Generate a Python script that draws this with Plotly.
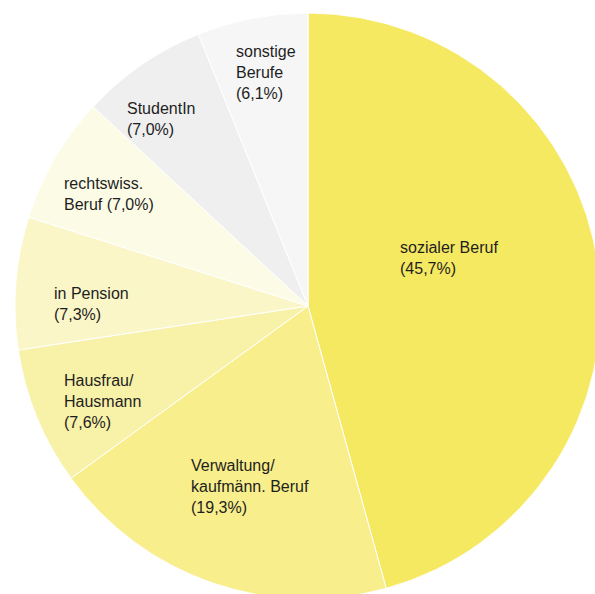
"""Berufsgruppen als Tortendiagramm."""

import plotly.graph_objects as go

# data
categories = [
    "sozialer Beruf",
    "Verwaltung/ kaufmänn. Beruf",
    "Hausfrau/ Hausmann",
    "in Pension",
    "rechtswiss. Beruf",
    "StudentIn",
    "sonstige Berufe",
]
shares = [45.7, 19.3, 7.6, 7.3, 7.0, 7.0, 6.1]
label_lines = [
    "sozialer Beruf<br>",
    "Verwaltung/<br>kaufmänn. Beruf<br>",
    "Hausfrau/<br>Hausmann<br>",
    "in Pension<br>",
    "rechtswiss.<br>Beruf ",
    "StudentIn<br>",
    "sonstige<br>Berufe<br>",
]

# style
colors = ["#F6E962", "#F8EE8C", "#F8F1A8", "#FAF6C8", "#FCFBE6", "#EFEFEF", "#F6F6F6"]
W, H = 616, 612
CX, CY, R = 308, 306, 293
# left edge / first line centre of each label, in pixels
label_pos = [(399, 249), (190, 467), (63, 382), (53, 295), (63, 185), (126, 110), (235, 53)]

fig = go.Figure(
    go.Pie(
        labels=categories,
        values=shares,
        sort=False,
        direction="clockwise",
        rotation=0,
        marker=dict(colors=colors, line=dict(color="white", width=1)),
        textinfo="none",
        hoverinfo="label+percent",
        domain=dict(x=[(CX - R) / W, (CX + R) / W], y=[(H - CY - R) / H, (H - CY + R) / H]),
        showlegend=False,
    )
)

for text, share, (px, py) in zip(label_lines, shares, label_pos):
    pct = f"({share:.1f}%)".replace(".", ",")
    fig.add_annotation(
        x=px / W,
        y=1 - (py - 11) / H,
        xref="paper",
        yref="paper",
        xanchor="left",
        yanchor="top",
        align="left",
        showarrow=False,
        borderpad=0,
        text=text + pct,
        font=dict(family="Liberation Sans, Arial, sans-serif", size=16, color="#1e1e1e"),
    )

fig.update_layout(
    width=W,
    height=H,
    margin=dict(l=0, r=0, t=0, b=0),
    paper_bgcolor="white",
    plot_bgcolor="white",
)

fig.write_html(
    "out.html",
    config={"displayModeBar": False},
    post_script="document.body.style.margin='0';document.body.style.overflow='hidden';",
)
